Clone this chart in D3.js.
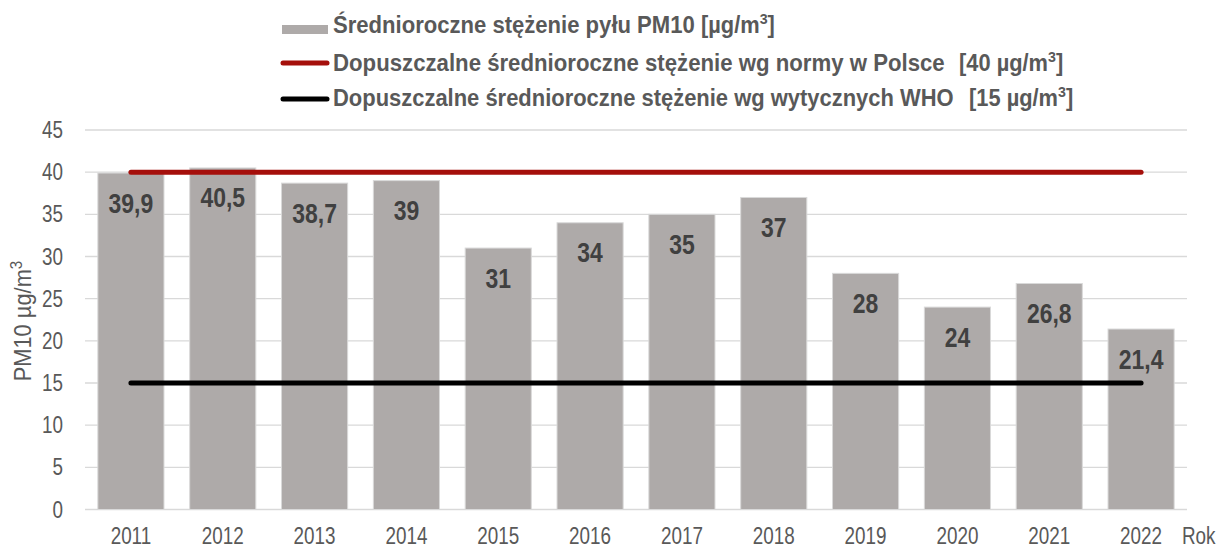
<!DOCTYPE html>
<html>
<head>
<meta charset="utf-8">
<script src="https://cdn.jsdelivr.net/npm/d3@7"></script>
<style>
  body { margin: 0; background: #fff; }
  svg { font-family: "Liberation Sans", Arial, sans-serif; }
</style>
</head>
<body>
<svg width="1222" height="548"></svg>
<script>
const years = ['2011','2012','2013','2014','2015','2016','2017','2018','2019','2020','2021','2022'];
const pm10 = [39.9, 40.5, 38.7, 39, 31, 34, 35, 37, 28, 24, 26.8, 21.4];
const normPL = 40;
const normWHO = 15;
const yTicks = [0, 5, 10, 15, 20, 25, 30, 35, 40, 45];
const legendLabels = [
  'Średnioroczne stężenie pyłu PM10',
  'Dopuszczalne średnioroczne stężenie wg normy w Polsce',
  'Dopuszczalne średnioroczne stężenie wg wytycznych WHO'
];
const legendUnits = [['[µg/m', ']'], ['[40 µg/m', ']'], ['[15 µg/m', ']']];

const svg = d3.select('svg');
const plotL = 85, plotR = 1187, plotT = 130, plotB = 509.5;
const narrow = 0.82; // Arial Narrow look

const x = d3.scaleBand().domain(years).range([plotL, plotR]).paddingInner(0.28).paddingOuter(0.14);
const y = d3.scaleLinear().domain([0, 45]).range([plotB, plotT]);
const cx = yr => x(yr) + x.bandwidth() / 2;

const at = (px, py, s = narrow) => `translate(${px},${py}) scale(${s},1)`;

// grid
svg.append('g').selectAll('line').data(yTicks).join('line')
  .attr('x1', plotL).attr('x2', plotR)
  .attr('y1', d => y(d)).attr('y2', d => y(d))
  .attr('stroke', '#d9d9d9').attr('stroke-width', 1.3);

// y axis labels
svg.append('g').selectAll('text').data(yTicks).join('text')
  .attr('transform', d => at(63, y(d) + 8))
  .attr('text-anchor', 'end').attr('font-size', 23).attr('fill', '#595959')
  .text(d => d);

svg.append('text')
  .attr('transform', `translate(31,321) rotate(-90) scale(0.95,1)`)
  .attr('text-anchor', 'middle').attr('font-size', 23).attr('fill', '#595959')
  .html('PM10 µg/m<tspan dy="-9" font-size="16">3</tspan>');

// bars
svg.append('g').selectAll('rect').data(pm10).join('rect')
  .attr('x', (d, i) => x(years[i]))
  .attr('width', x.bandwidth())
  .attr('y', d => y(d))
  .attr('height', d => y(0) - y(d))
  .attr('fill', '#aeaaa9')
  .attr('stroke', '#d9d9d9').attr('stroke-width', 1);

// value labels
svg.append('g').selectAll('text').data(pm10).join('text')
  .attr('transform', (d, i) => at(cx(years[i]), y(d) + 39.5))
  .attr('text-anchor', 'middle').attr('font-size', 28).attr('font-weight', 'bold')
  .attr('fill', '#404040')
  .text(d => String(d).replace('.', ','));

// norm lines
[[normPL, '#a50f0b'], [normWHO, '#000']].forEach(([v, c]) => {
  svg.append('line')
    .attr('x1', cx(years[0])).attr('x2', cx(years[years.length - 1]))
    .attr('y1', y(v)).attr('y2', y(v))
    .attr('stroke', c).attr('stroke-width', 5).attr('stroke-linecap', 'round');
});

// x labels
svg.append('g').selectAll('text').data(years).join('text')
  .attr('transform', d => at(cx(d), 544))
  .attr('text-anchor', 'middle').attr('font-size', 23).attr('fill', '#595959')
  .text(d => d);
svg.append('text').attr('transform', at(1182, 544))
  .attr('font-size', 23).attr('fill', '#595959').text('Rok');

// legend
const lg = svg.append('g');
const baselines = [33, 71, 106];
const phraseW = [362, 612, 621];
const unitX = [701, 959, 969];
lg.append('rect').attr('x', 282).attr('y', 25).attr('width', 46).attr('height', 9).attr('fill', '#aeaaa9');
lg.append('line').attr('x1', 283).attr('x2', 327).attr('y1', 63).attr('y2', 63)
  .attr('stroke', '#a50f0b').attr('stroke-width', 5).attr('stroke-linecap', 'round');
lg.append('line').attr('x1', 283).attr('x2', 327).attr('y1', 99).attr('y2', 99)
  .attr('stroke', '#000').attr('stroke-width', 5).attr('stroke-linecap', 'round');

legendLabels.forEach((t, i) => {
  const p = lg.append('text')
    .attr('font-size', 23).attr('font-weight', 'bold').attr('fill', '#595959')
    .text(t);
  const w = p.node().getComputedTextLength();
  p.attr('transform', at(333, baselines[i], phraseW[i] / w));
  const u = lg.append('text').attr('transform', at(unitX[i], baselines[i], 0.95))
    .attr('font-size', 23).attr('font-weight', 'bold').attr('fill', '#595959');
  u.append('tspan').text(legendUnits[i][0]);
  u.append('tspan').attr('dy', -9).attr('font-size', 15).text('3');
  u.append('tspan').attr('dy', 9).text(legendUnits[i][1]);
});
</script>
</body>
</html>
